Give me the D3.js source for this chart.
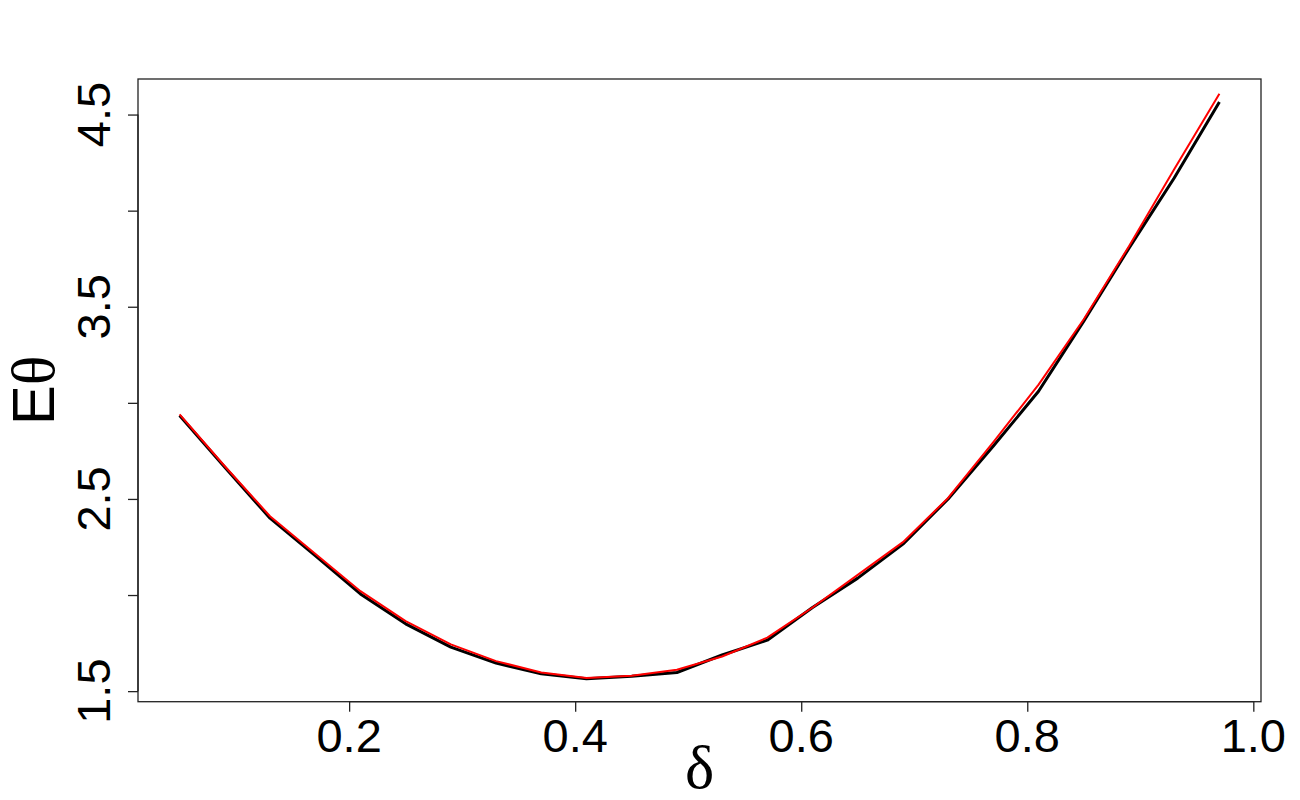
<!DOCTYPE html>
<html>
<head>
<meta charset="utf-8">
<script src="https://cdn.jsdelivr.net/npm/d3@7/dist/d3.min.js"></script>
<style>
  html, body { margin: 0; padding: 0; background: #ffffff; }
  svg { display: block; }
</style>
</head>
<body>
<svg id="chart" width="1300" height="800"></svg>
<script>
// ---- data ----
const delta = [0.05, 0.09, 0.13, 0.17, 0.21, 0.25, 0.29, 0.33, 0.37, 0.41, 0.45, 0.49,
               0.53, 0.57, 0.61, 0.65, 0.69, 0.73, 0.77, 0.81, 0.85, 0.89, 0.93, 0.97];
const blackSeries = [2.934, 2.665, 2.400, 2.205, 2.006, 1.850, 1.729, 1.646, 1.590, 1.565, 1.578, 1.597,
                     1.688, 1.765, 1.935, 2.088, 2.265, 2.500, 2.775, 3.060, 3.425, 3.805, 4.170, 4.565];
const redSeries = [2.940, 2.670, 2.410, 2.215, 2.020, 1.864, 1.743, 1.656, 1.597, 1.568, 1.580, 1.611,
                   1.680, 1.778, 1.935, 2.105, 2.275, 2.505, 2.796, 3.095, 3.435, 3.815, 4.215, 4.608];
const xTickValues = [0.2, 0.4, 0.6, 0.8, 1.0];
const xTickLabels = ["0.2", "0.4", "0.6", "0.8", "1.0"];
const yTickValues = [1.5, 2.0, 2.5, 3.0, 3.5, 4.0, 4.5];
const yTickLabels = ["1.5", "", "2.5", "", "3.5", "", "4.5"];
const xTitle = "δ";
const yTitleLatin = "E";
const yTitleGreek = "θ";

// ---- layout ----
const plot = { left: 138, right: 1261, top: 79, bottom: 701.7 };
const svg = d3.select("#chart");
const font = "'Liberation Sans', Arial, Helvetica, sans-serif";
const symFont = "'Liberation Serif', 'DejaVu Serif', serif";

// R-style 4% axis extension
function rExtend(ext) {
  const d = (ext[1] - ext[0]) * 0.04;
  return [ext[0] - d, ext[1] + d];
}
const x = d3.scaleLinear().domain(rExtend(d3.extent(delta))).range([plot.left, plot.right]);
const y = d3.scaleLinear().domain(rExtend(d3.extent(blackSeries))).range([plot.bottom, plot.top]);

// ---- series ----
const line = d3.line().x((d, i) => x(delta[i])).y(d => y(d));
svg.append("path").datum(blackSeries)
  .attr("d", line).attr("fill", "none")
  .attr("stroke", "#000000").attr("stroke-width", 3).attr("stroke-linejoin", "round");
svg.append("path").datum(redSeries)
  .attr("d", line).attr("fill", "none")
  .attr("stroke", "#ff0000").attr("stroke-width", 2).attr("stroke-linejoin", "round");

// ---- box ----
svg.append("rect")
  .attr("x", plot.left).attr("y", plot.top)
  .attr("width", plot.right - plot.left).attr("height", plot.bottom - plot.top)
  .attr("fill", "none").attr("stroke", "#222").attr("stroke-width", 1.3);

// ---- axes ----
const xAxis = d3.axisBottom(x).tickValues(xTickValues).tickSize(10).tickFormat("");
const gx = svg.append("g").attr("transform", `translate(0,${plot.bottom})`).call(xAxis);
gx.select(".domain").attr("d", `M${x(xTickValues[0])},0H${x(xTickValues[xTickValues.length - 1])}`)
  .attr("stroke", "#222").attr("stroke-width", 1.3);
gx.selectAll(".tick line").attr("stroke", "#222").attr("stroke-width", 1.3);

const yAxis = d3.axisLeft(y).tickValues(yTickValues).tickSize(10).tickFormat("");
const gy = svg.append("g").attr("transform", `translate(${plot.left},0)`).call(yAxis);
gy.select(".domain").attr("d", `M0,${y(yTickValues[0])}V${y(yTickValues[yTickValues.length - 1])}`)
  .attr("stroke", "#222").attr("stroke-width", 1.3);
gy.selectAll(".tick line").attr("stroke", "#222").attr("stroke-width", 1.3);

// tick labels
svg.append("g").selectAll("text").data(xTickValues).join("text")
  .attr("x", d => x(d)).attr("y", 752)
  .attr("text-anchor", "middle")
  .attr("font-family", font).attr("font-size", 47).attr("fill", "#000")
  .text((d, i) => xTickLabels[i]);

svg.append("g").selectAll("text").data(yTickValues).join("text")
  .attr("transform", d => `translate(110,${y(d)}) rotate(-90)`)
  .attr("text-anchor", "middle")
  .attr("font-family", font).attr("font-size", 47).attr("fill", "#000")
  .text((d, i) => yTickLabels[i]);

// axis titles
svg.append("text")
  .attr("x", (plot.left + plot.right) / 2).attr("y", 788)
  .attr("text-anchor", "middle")
  .attr("font-family", symFont).attr("font-size", 62).attr("fill", "#000")
  .text(xTitle);

const yt = svg.append("text")
  .attr("transform", `translate(54,${(plot.top + plot.bottom) / 2}) rotate(-90)`)
  .attr("text-anchor", "middle")
  .attr("font-size", 60).attr("fill", "#000");
yt.append("tspan").attr("font-family", font).text(yTitleLatin);
yt.append("tspan").attr("font-family", symFont).attr("font-size", 62).text(yTitleGreek);
</script>
</body>
</html>
